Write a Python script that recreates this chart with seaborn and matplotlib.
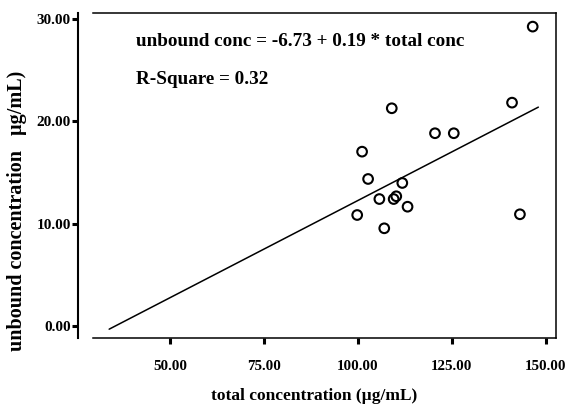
import matplotlib
matplotlib.use("Agg")
import matplotlib.pyplot as plt
import seaborn as sns
import pandas as pd

# Total vs unbound concentration (µg/mL)
total_conc = [146.5, 141.0, 109.0, 120.5, 125.5, 101.1, 102.7, 111.8,
              105.7, 109.5, 110.2, 113.2, 99.8, 143.1, 107.0]
unbound_conc = [29.26, 21.83, 21.28, 18.84, 18.84, 17.04, 14.37, 13.98,
                12.41, 12.41, 12.68, 11.66, 10.85, 10.92, 9.55]

# Fitted linear model
intercept = -6.73
slope = 0.19
r_square = 0.32
fit_x_range = [33.8, 148.0]

x_ticks = [50, 75, 100, 125, 150]
y_ticks = [0, 10, 20, 30]

sns.set_theme(style="white")
plt.rcParams["font.family"] = ["Liberation Serif", "DejaVu Serif"]
plt.rcParams["font.weight"] = "bold"
plt.rcParams["text.color"] = "black"
plt.rcParams["axes.labelcolor"] = "black"

df = pd.DataFrame({"total": total_conc, "unbound": unbound_conc})
fit_df = pd.DataFrame({"total": fit_x_range,
                       "unbound": [intercept + slope * v for v in fit_x_range]})

fig = plt.figure(figsize=(5.7, 4.08), dpi=100)
ax = fig.add_axes([93 / 570, 1 - 338 / 408, (556 - 93) / 570, (338 - 13) / 408])

sns.lineplot(data=fit_df, x="total", y="unbound", ax=ax, color="black",
             linewidth=1.1)
sns.scatterplot(data=df, x="total", y="unbound", ax=ax, marker="o", s=48,
                facecolor="none", edgecolor="black", linewidth=1.5)

ax.set_xlim(29.5, 152.7)
ax.set_ylim(-1.17, 30.59)
ax.set_xticks(x_ticks)
ax.set_yticks(y_ticks)
ax.set_xticklabels([f"{v:.2f}" for v in x_ticks], fontsize=10.8, fontweight="bold")
ax.set_yticklabels([f"{v:.2f}" for v in y_ticks], fontsize=10.8, fontweight="bold")

for side in ["top", "right", "bottom", "left"]:
    ax.spines[side].set_visible(True)
    ax.spines[side].set_color("black")
    ax.spines[side].set_linewidth(1.1)
ax.spines["left"].set_position(("outward", 11))
ax.spines["left"].set_linewidth(1.5)

ax.tick_params(axis="both", which="major", direction="out", length=4.5,
               width=2.2, color="black", bottom=True, left=True,
               labelcolor="black")
ax.tick_params(axis="x", pad=11)
ax.tick_params(axis="y", pad=0.5)

ax.set_xlabel("total concentration (µg/mL)", fontsize=12.5, fontweight="bold")
ax.set_ylabel("unbound concentration   µg/mL)", fontsize=14.5, fontweight="bold")
ax.xaxis.set_label_coords(0.477, -0.153)
ax.yaxis.set_label_coords(-0.1425, 0.39)

ax.text(136 / 100, (408 - 42) / 100,
        f"unbound conc = {intercept:.2f} + {slope:.2f} * total conc",
        transform=fig.dpi_scale_trans, fontsize=13.8, fontweight="bold",
        va="center", ha="left")
ax.text(136 / 100, (408 - 80) / 100, f"R-Square = {r_square:.2f}",
        transform=fig.dpi_scale_trans, fontsize=13.8, fontweight="bold",
        va="center", ha="left")

fig.savefig("out.png", dpi=100)
